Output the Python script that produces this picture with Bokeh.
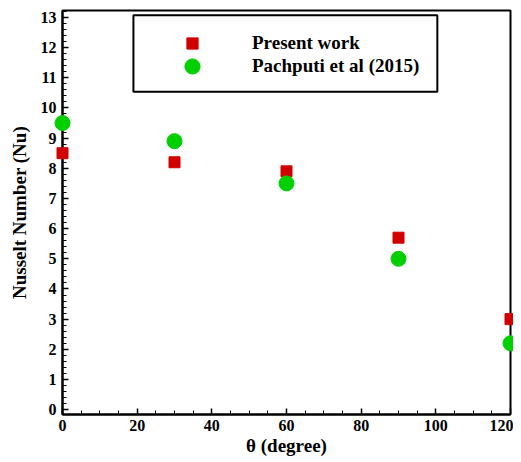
from bokeh.plotting import figure
from bokeh.models import Range1d, SingleIntervalTicker, Legend, LegendItem, BoxAnnotation
from bokeh.embed import file_html
from bokeh.resources import INLINE

theta = [0, 30, 60, 90, 120]
present_nu = [8.5, 8.2, 7.9, 5.7, 3.0]
pachputi_nu = [9.5, 8.9, 7.5, 5.0, 2.2]
series_labels = ["Present work", "Pachputi et al (2015)"]

FONT = "Liberation Serif"
RED = "#D00000"
GREEN = "#00D000"

p = figure(width=513, height=458, output_backend="svg", toolbar_location=None,
           x_range=Range1d(0, 120), y_range=Range1d(-0.16, 13.23),
           min_border_left=62, min_border_right=3, min_border_top=10, min_border_bottom=40)
p.grid.visible = False
p.outline_line_color = "black"
p.outline_line_width = 2
p.outline_line_alpha = 1

# legend frame
p.add_layout(BoxAnnotation(left=19.0, right=100.4, top=13.07, bottom=10.54,
                           fill_color="white", fill_alpha=1,
                           line_color="black", line_alpha=1, line_width=2))

r1 = p.scatter(theta, present_nu, marker="square", size=11, color=RED, level="overlay")
r2 = p.scatter(theta, pachputi_nu, marker="circle", size=15, color=GREEN, level="overlay")

for ax in (p.xaxis[0], p.yaxis[0]):
    ax.axis_line_width = 2
    ax.axis_line_color = "black"
    ax.major_tick_in = 6
    ax.major_tick_out = 0
    ax.minor_tick_in = 4
    ax.minor_tick_out = 0
    ax.major_tick_line_width = 1.5
    ax.minor_tick_line_width = 1
    ax.major_tick_line_color = "black"
    ax.minor_tick_line_color = "black"
    ax.major_label_text_font = FONT
    ax.major_label_text_font_style = "bold"
    ax.major_label_text_font_size = "16px"
    ax.major_label_text_color = "black"
    ax.axis_label_text_font = FONT
    ax.axis_label_text_font_style = "bold"
    ax.axis_label_text_font_size = "19px"
    ax.axis_label_text_color = "black"

p.xaxis.ticker = SingleIntervalTicker(interval=20, num_minor_ticks=4)
p.yaxis.ticker = SingleIntervalTicker(interval=1, num_minor_ticks=5)
p.xaxis.axis_label = "θ (degree)"
p.yaxis.axis_label = "Nusselt Number (Nu)"
p.xaxis.major_label_standoff = 5
p.yaxis.major_label_standoff = 6
p.xaxis.axis_label_standoff = 1
p.yaxis.axis_label_standoff = 8

common = dict(padding=0, spacing=0, margin=0, glyph_width=118, label_standoff=1,
              label_text_font=FONT, label_text_font_style="bold",
              label_text_font_size="19px", label_text_color="black",
              border_line_color=None, background_fill_alpha=0)
leg1 = Legend(items=[LegendItem(label=series_labels[0], renderers=[r1])],
              location=(71, 357), glyph_height=28, label_height=28, **common)
leg2 = Legend(items=[LegendItem(label=series_labels[1], renderers=[r2])],
              location=(71, 329), glyph_height=38, label_height=38, **common)
p.add_layout(leg1, "center")
p.add_layout(leg2, "center")

open("out.html", "w").write(file_html(p, INLINE))
